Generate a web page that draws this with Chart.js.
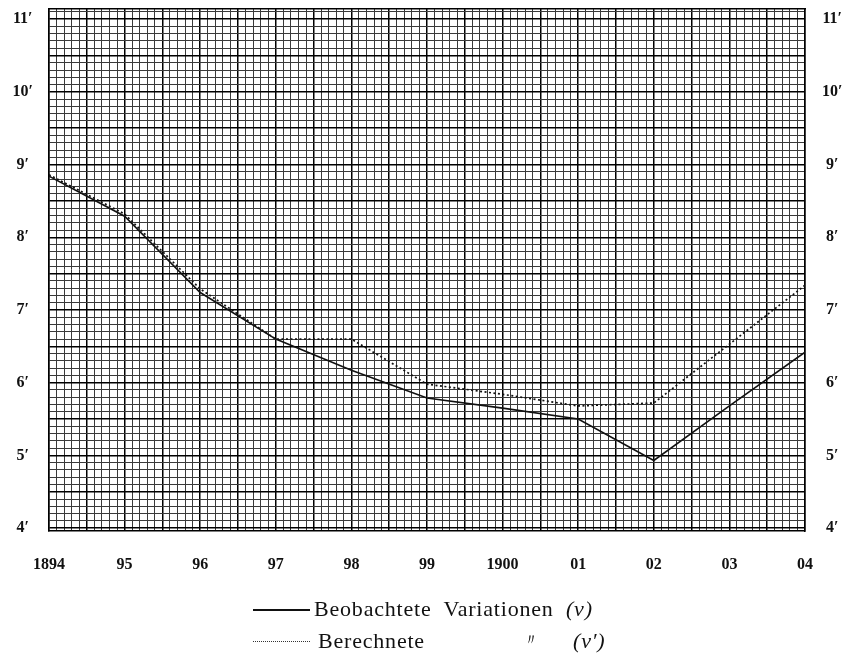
<!DOCTYPE html>
<html>
<head>
<meta charset="utf-8">
<script src="https://cdn.jsdelivr.net/npm/chart.js@4/dist/chart.umd.min.js"></script>
<style>
  body { margin: 0; background: #fff; }
  #wrap { position: relative; width: 849px; height: 656px; }
  .legend-row { position: absolute; font-family: "Liberation Serif", "DejaVu Serif", serif; font-size: 22px; color: #111; letter-spacing: 0.8px; word-spacing: 6px; white-space: nowrap; }
  .sample { position: absolute; width: 57px; }
</style>
</head>
<body>
<div id="wrap">
  <canvas id="chart" width="849" height="656"></canvas>

  <div class="sample" style="left:253px; top:609px; border-top:2px solid #111;"></div>
  <div class="legend-row" style="left:314px; top:596px;">Beobachtete Variationen <i>(v)</i></div>

  <div class="sample" style="left:253px; top:641px; border-top:1.5px dotted #333;"></div>
  <div class="legend-row" style="left:318px; top:628px;">Berechnete</div>
  <div class="legend-row" style="left:523px; top:630px; font-size:16px;">〃</div>
  <div class="legend-row" style="left:573px; top:628px;"><i>(v′)</i></div>
</div>

<script>
// Jahre und Werte (in Bogenminuten)
const years = [1894, 1895, 1896, 1897, 1898, 1899, 1900, 1901, 1902, 1903, 1904];
const beobachtet = [8.84, 8.29, 7.24, 6.60, 6.17, 5.79, 5.65, 5.50, 4.93, 5.68, 6.42];
const berechnet = [8.86, 8.32, 7.29, 6.60, 6.60, 5.98, 5.84, 5.68, 5.72, 6.53, 7.34];

const xTickLabels = ['1894', '95', '96', '97', '98', '99', '1900', '01', '02', '03', '04'];
const yTickValues = [4, 5, 6, 7, 8, 9, 10, 11];
const yTickLabels = ['4′', '5′', '6′', '7′', '8′', '9′', '10′', '11′'];

const Y_MIN = 3.96, Y_MAX = 11.14;
const labelFont = { family: '"Liberation Serif", "DejaVu Serif", serif', size: 16, weight: 'bold' };

function near(v, w) { return Math.abs(v - w) < 1e-6; }

function yLabel(v) {
    const i = yTickValues.findIndex(t => near(t, v));
    return i >= 0 ? yTickLabels[i] : '';
}
function xLabel(v) {
    const i = years.findIndex(t => near(t, v));
    return i >= 0 ? xTickLabels[i] : '';
}

// feines Raster, jede halbe Einheit kräftiger
function gridColor(ctx) {
    const v = ctx.tick.value;
    return near(v * 2, Math.round(v * 2)) ? '#000' : '#3a3a3a';
}
function gridWidth(ctx) {
    const v = ctx.tick.value;
    return near(v * 2, Math.round(v * 2)) ? 1.5 : 1;
}

// keine zusaetzlichen Raender fuer die Beschriftung
function noPad(s) {
    s.paddingTop = 0; s.paddingBottom = 0;
    s.paddingLeft = 0; s.paddingRight = 0;
}

const border = { display: true, color: '#000', width: 1.5 };

new Chart(document.getElementById('chart').getContext('2d'), {
    type: 'line',
    data: {
        datasets: [{
            label: 'Beobachtete Variationen (v)',
            data: years.map((yr, i) => ({ x: yr, y: beobachtet[i] })),
            borderColor: '#111',
            borderWidth: 1.6,
            pointRadius: 0,
            tension: 0
        }, {
            label: 'Berechnete Variationen (v′)',
            data: years.map((yr, i) => ({ x: yr, y: berechnet[i] })),
            borderColor: '#111',
            borderWidth: 1.7,
            borderDash: [2, 2.5],
            pointRadius: 0,
            tension: 0
        }]
    },
    options: {
        responsive: false,
        animation: false,
        layout: { padding: 0 },
        plugins: {
            legend: { display: false },
            tooltip: { enabled: false }
        },
        scales: {
            x: {
                type: 'linear',
                position: 'bottom',
                min: 1894,
                max: 1904,
                afterFit: s => { s.height = 125; noPad(s); },
                grid: { color: gridColor, lineWidth: gridWidth, drawTicks: false },
                border: border,
                ticks: {
                    stepSize: 0.1,
                    includeBounds: false,
                    autoSkip: false,
                    maxRotation: 0,
                    minRotation: 0,
                    padding: 24,
                    color: '#111',
                    font: labelFont,
                    callback: v => xLabel(v)
                }
            },
            xt: {
                type: 'linear',
                position: 'top',
                min: 0,
                max: 1,
                afterFit: s => { s.height = 9; noPad(s); },
                grid: { display: false, drawTicks: false },
                border: border,
                ticks: { display: false }
            },
            y: {
                type: 'linear',
                position: 'left',
                min: Y_MIN,
                max: Y_MAX,
                afterFit: s => { s.width = 49; noPad(s); },
                grid: { color: gridColor, lineWidth: gridWidth, drawTicks: false },
                border: border,
                ticks: {
                    stepSize: 0.1,
                    includeBounds: false,
                    autoSkip: false,
                    crossAlign: 'center',
                    padding: 16,
                    color: '#111',
                    font: labelFont,
                    callback: v => yLabel(v)
                }
            },
            y2: {
                type: 'linear',
                position: 'right',
                min: Y_MIN,
                max: Y_MAX,
                afterFit: s => { s.width = 44; noPad(s); },
                grid: { display: false, drawTicks: false },
                border: border,
                ticks: {
                    stepSize: 1,
                    includeBounds: false,
                    crossAlign: 'center',
                    padding: 17,
                    color: '#111',
                    font: labelFont,
                    callback: v => yLabel(v)
                }
            }
        }
    }
});
</script>
</body>
</html>
